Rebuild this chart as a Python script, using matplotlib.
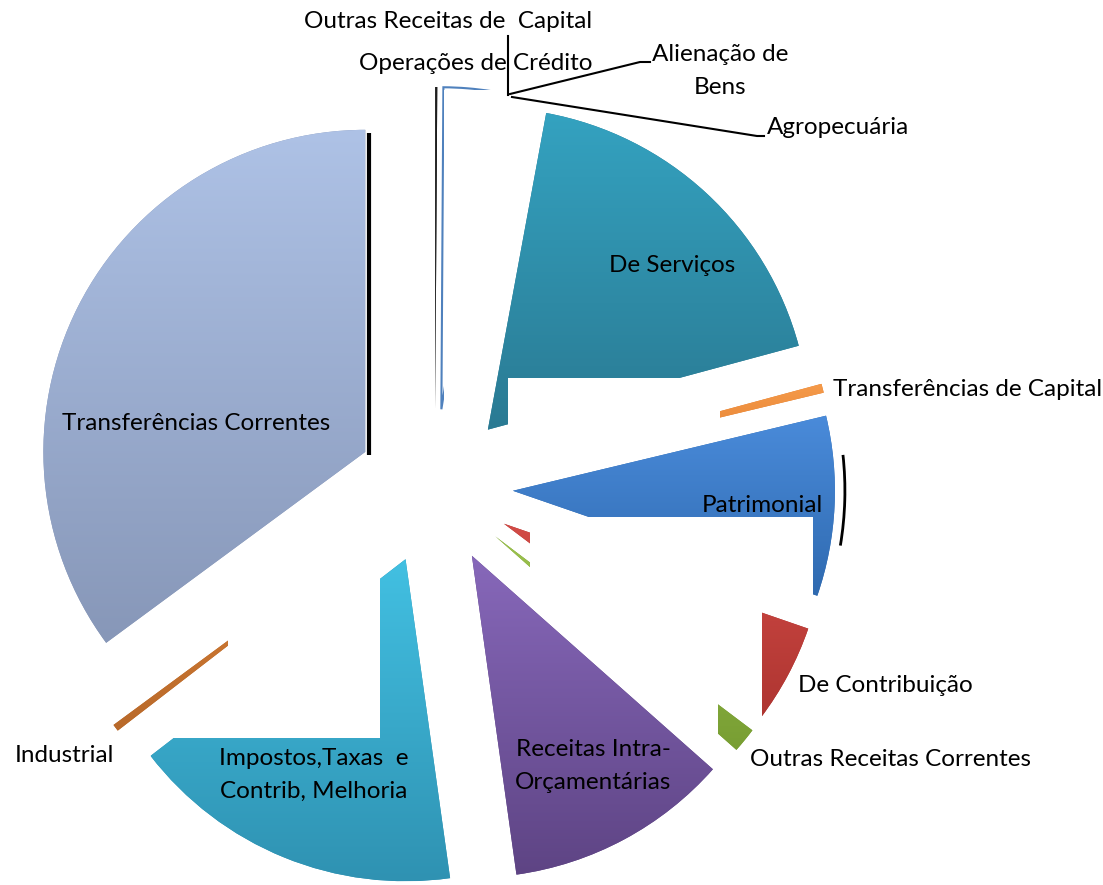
#!/usr/bin/env python3

import numpy as np
import matplotlib
matplotlib.use('Agg')
import matplotlib.pyplot as plt
from matplotlib.patches import Rectangle, Arc
from matplotlib.colors import LinearSegmentedColormap

# receitas por origem (% do total), fatias no sentido horario a partir das 12h
categorias = ['Outras Receitas de  Capital', 'Operações de Crédito',
              'Alienação de\nBens', 'Agropecuária', 'De Serviços',
              'Transferências de Capital', 'Patrimonial', 'De Contribuição',
              'Outras Receitas Correntes', 'Receitas Intra-\nOrçamentárias',
              'Impostos,Taxas  e\nContrib, Melhoria', 'Industrial',
              'Transferências Correntes']
percentuais = [0.1, 2.4, 0.2, 0.2, 17.9, 0.45, 9.03, 5.0, 1.25, 11.25,
               16.75, 0.35, 35.1]

W, H = 1103, 885


def py(y):
    # pixel (y para baixo) -> coordenada do eixo
    return H - y


def main():
    cor_topo = ['#1E1E1E', '#FFFFFF', '#9BBB59', '#8064A2', '#34A2C0',
                '#F59A4A', '#4A8BDA', '#D24B46', '#9CC24E', '#8768BA',
                '#42C0E2', '#DC8238', '#AEC2E6']
    cor_base = ['#1E1E1E', '#FFFFFF', '#9BBB59', '#8064A2', '#2A7A93',
                '#E07A2A', '#2F6AB0', '#AE3531', '#789E33', '#5E4484',
                '#2F92B2', '#B8692A', '#8797B8']
    camada = [1, 1, 1, 1, 2, 2, 3, 3, 4.5, 5, 1, 2, 5]

    fig = plt.figure(figsize=(W / 100, H / 100), dpi=100)
    ax = fig.add_axes([0, 0, 1, 1])

    centro = (435, py(487))
    raio = 322
    wedges, _ = ax.pie(percentuais, startangle=90, counterclock=False,
                       radius=raio, center=centro,
                       explode=[78] * len(percentuais), frame=True,
                       colors=cor_base)

    grad = np.linspace(0, 1, 256).reshape(-1, 1)
    for i, w in enumerate(wedges):
        w.set_zorder(camada[i])
        w.set_linewidth(0)
        if categorias[i] == 'Operações de Crédito':
            w.set_edgecolor('#4F81BD')
            w.set_linewidth(1.5)
            continue
        bb = w.get_path().get_extents()
        cmap = LinearSegmentedColormap.from_list('g', [cor_base[i], cor_topo[i]])
        im = ax.imshow(grad, cmap=cmap, origin='lower', aspect='auto',
                       extent=(bb.x0, bb.x1, bb.y0, bb.y1),
                       interpolation='bilinear', zorder=camada[i] + 0.01)
        im.set_clip_path(w)

    # sombras pretas do efeito 3D
    tc = wedges[-1]
    cx, cy = tc.center
    ax.plot([cx + 4, cx + 4], [cy - 3, cy + tc.r - 3], color='black',
            lw=3, zorder=4.9, solid_capstyle='butt')
    pat = wedges[6]
    ax.add_patch(Arc(pat.center, 2 * (pat.r + 10), 2 * (pat.r + 10),
                     theta1=-9.5, theta2=6.2, color='black', lw=2,
                     zorder=3.5))

    # caixas brancas que tapam partes das fatias
    caixas = [(444, 90, 545, 415, 1.5),
              (508, 378, 720, 517, 2.5),
              (530, 517, 813, 610, 4),
              (530, 610, 762, 720, 4),
              (530, 517, 718, 760, 4.7),
              (160, 648, 380, 738, 1.5),
              (228, 530, 380, 648, 2.5)]
    for x0, y0, x1, y1, z in caixas:
        ax.add_patch(Rectangle((x0, py(y1)), x1 - x0, y1 - y0,
                               facecolor='white', edgecolor='none', zorder=z))

    # linhas de chamada
    linhas = [[(508, 36), (508, 95)],
              [(510, 94), (640, 62), (650, 62)],
              [(512, 97), (757, 136), (764, 136)]]
    for ln in linhas:
        xs, ys = zip(*ln)
        ax.plot(xs, [py(v) for v in ys], color='black', lw=1.5, zorder=10)

    rotulos = [(448, 22, 'center'), (476, 63, 'center'), (720, 71, 'center'),
               (767, 127, 'left'), (672, 265, 'center'), (833, 390, 'left'),
               (762, 505, 'center'), (798, 685, 'left'), (750, 760, 'left'),
               (593, 766, 'center'), (314, 775, 'center'), (15, 755, 'left'),
               (196, 423, 'center')]
    for nome, (x, y, ha) in zip(categorias, rotulos):
        ax.text(x, py(y), nome, ha=ha, va='center', ma='center',
                fontsize=17.5, family=['Lato', 'DejaVu Sans'],
                linespacing=1.65, zorder=11)

    ax.set_xlim(0, W)
    ax.set_ylim(0, H)
    ax.set_aspect('equal')
    ax.axis('off')
    fig.savefig('out.png', dpi=100, facecolor='white')


if __name__ == '__main__':
    main()
